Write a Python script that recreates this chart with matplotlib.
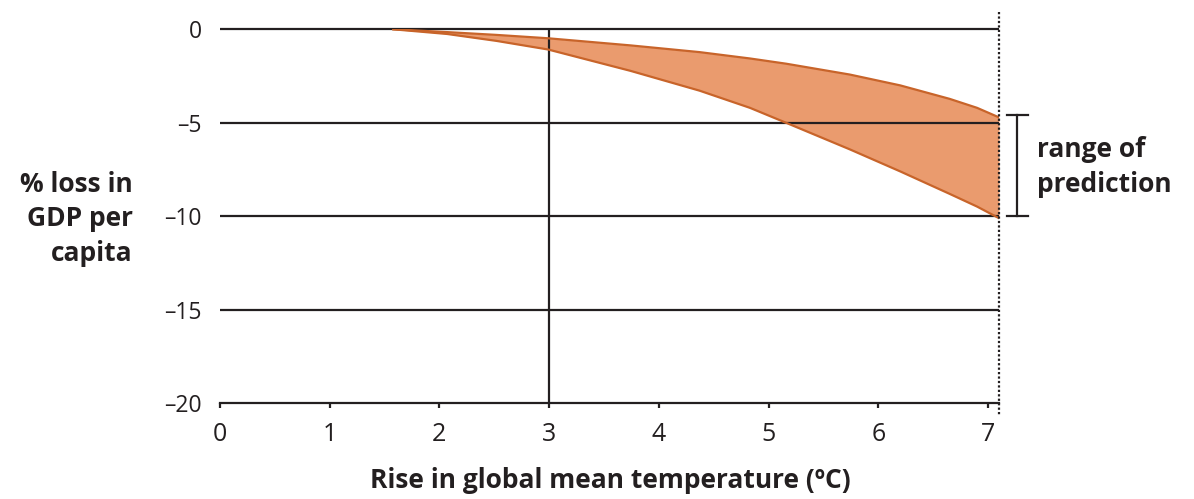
import matplotlib
matplotlib.use("Agg")
import matplotlib.pyplot as plt

plt.rcParams['font.family'] = ['Open Sans', 'DejaVu Sans']

temp_rise = [1.58, 2.07, 2.52, 2.99, 3.74, 4.37, 4.83, 5.16, 5.74, 6.20, 6.65, 6.90, 7.10]
loss_low_est = [0, -0.15, -0.30, -0.48, -0.86, -1.22, -1.56, -1.84, -2.42, -3.00, -3.72, -4.20, -4.71]
loss_high_est = [0, -0.25, -0.62, -1.08, -2.22, -3.28, -4.20, -5.00, -6.42, -7.60, -8.80, -9.48, -10.10]

x_ticks = [0, 1, 2, 3, 4, 5, 6, 7]
y_ticks = [0, -5, -10, -15, -20]
y_tick_labels = ['0', '\u20135', '\u201310', '\u201315', '\u201320']
x_max = 7.10
marker_temp = 3

INK = '#231f20'
FILL = '#ea9b6e'
EDGE = '#c8642a'

fig = plt.figure(figsize=(11.94, 4.99), dpi=100)
ax = fig.add_axes([220 / 1194, 1 - 403.3 / 499, (999 - 220) / 1194, (403.3 - 29.3) / 499])

ax.fill_between(temp_rise, loss_low_est, loss_high_est, color=FILL, lw=0, zorder=1)
ax.plot(temp_rise, loss_low_est, color=EDGE, lw=1.6, zorder=3)
ax.plot(temp_rise, loss_high_est, color=EDGE, lw=1.6, zorder=3)

# horizontal rules
ax.hlines(y_ticks[:-1], 0, x_max, color=INK, lw=1.6, zorder=2, clip_on=False)
ax.vlines(marker_temp, -20, 0, color=INK, lw=1.6, zorder=2)
ax.plot([x_max, x_max], [0.95, -20.6], color=INK, lw=1.6, ls=(0, (1, 1)),
        clip_on=False, zorder=4)

ax.set_xlim(0, x_max)
ax.set_ylim(-20, 0)
for s in ['top', 'right', 'left']:
    ax.spines[s].set_visible(False)
ax.spines['bottom'].set_color(INK)
ax.spines['bottom'].set_linewidth(1.6)

ax.set_xticks(x_ticks)
ax.set_xticklabels([str(t) for t in x_ticks], fontsize=18, color=INK)
ax.set_yticks(y_ticks)
ax.set_yticklabels(y_tick_labels, fontsize=16.5, color=INK)
ax.tick_params(axis='x', direction='out', length=3.5, width=1.6, color=INK, pad=10)
ax.tick_params(axis='y', length=0, pad=13)

# bracket for the range
bx = 7.26
ax.plot([bx, bx], [-4.6, -10.0], color=INK, lw=1.6, clip_on=False)
ax.plot([bx - 0.09, bx + 0.1], [-4.6, -4.6], color=INK, lw=1.6, clip_on=False)
ax.plot([bx - 0.09, bx + 0.1], [-10.0, -10.0], color=INK, lw=1.6, clip_on=False)

fig.text(1037 / 1194, 1 - 167 / 499, 'range of\nprediction', ha='left', va='center',
         fontsize=19, fontweight='bold', color=INK, linespacing=1.4)

fig.text(133 / 1194, 1 - 219 / 499, '% loss in\nGDP per\ncapita', ha='right', va='center',
         multialignment='right', fontsize=19, fontweight='bold', color=INK,
         linespacing=1.35)

fig.text(610 / 1194, 1 - 480 / 499, 'Rise in global mean temperature (\u00baC)', ha='center',
         va='center', fontsize=19, fontweight='bold', color=INK)

fig.savefig('out.png', dpi=100)
